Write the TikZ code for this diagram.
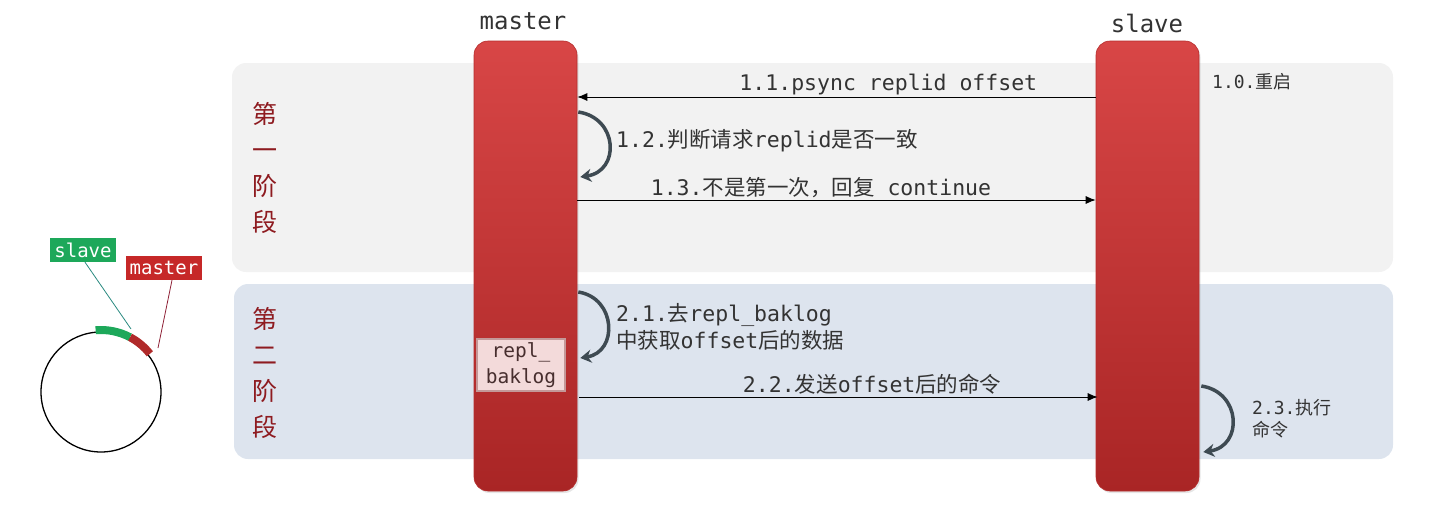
\documentclass[tikz,border=0pt]{standalone}
\usepackage{fontspec}
\setmonofont{DejaVu Sans Mono}
\newfontfamily\cjk{Noto Sans CJK SC}
\usetikzlibrary{arrows.meta,shadows}
\definecolor{panelgray}{HTML}{F2F2F2}
\definecolor{panelblue}{HTML}{DDE4EE}
\definecolor{bartop}{HTML}{D84646}
\definecolor{barbottom}{HTML}{A92525}
\definecolor{barline}{HTML}{B52D2D}
\definecolor{loopgray}{HTML}{3E4A52}
\definecolor{labelgray}{HTML}{333333}
\definecolor{stagered}{HTML}{8E1B20}
\definecolor{tagred}{HTML}{C62828}
\definecolor{taggreen}{HTML}{1DA85A}
\definecolor{arcred}{HTML}{B02A2A}
\definecolor{slaveline}{HTML}{2A8A80}
\definecolor{masterline}{HTML}{8E2035}
\definecolor{logfill}{HTML}{F3DADA}
\definecolor{logedge}{HTML}{C49898}
\newcommand\zh[1]{{\cjk #1}}
\begin{document}
\begin{tikzpicture}[x=1pt,y=-1pt,
    panel/.style={rounded corners=14pt, inner sep=0pt},
    bar/.style={rounded corners=14pt, minimum width=103pt, minimum height=450pt,
      top color=bartop, bottom color=barbottom, draw=barline, line width=0.6pt,
      drop shadow={opacity=0.2, shadow xshift=1.5pt, shadow yshift=-2pt}},
    title/.style={font=\ttfamily\fontsize{24}{28}\selectfont, text=labelgray},
    msg/.style={-{Latex[length=10pt,width=8pt]}, line width=0.9pt},
    loopy/.style={-{Stealth[length=11pt,width=13pt]}, line width=3.5pt, draw=loopgray},
    lbl/.style={font=\ttfamily\fontsize{21.5}{27}\selectfont, text=labelgray, inner sep=2pt},
    note/.style={font=\ttfamily\fontsize{18}{22}\selectfont, text=labelgray, align=left, inner sep=0pt},
    stage/.style={font=\cjk\fontsize{25}{36}\selectfont, text=stagered, align=center},
    tag/.style={font=\ttfamily\fontsize{19}{22}\selectfont, text=white, inner sep=4pt, minimum height=24pt}]
  \useasboundingbox (0,0) rectangle (1450,514);
  \node[panel, fill=panelgray, minimum width=1161pt, minimum height=209pt] (phaseone) at (812.5,167.5) {};
  \node[panel, fill=panelblue, minimum width=1159pt, minimum height=175pt] (phasetwo) at (813.5,371.5) {};
  \node[stage] (stageone) at (265,168) {第\\一\\阶\\段};
  \node[stage] (stagetwo) at (265,373) {第\\二\\阶\\段};
  \node[bar] (master) at (525.5,266) {};
  \node[bar] (slave) at (1147.5,266) {};
  \node[title] (mastername) at (523,21) {master};
  \node[title] (slavename) at (1147,23) {slave};
  \node[draw=logedge, line width=2.5pt, fill=logfill, minimum width=88pt, minimum height=52pt,
    align=center, inner sep=0pt, font=\ttfamily\fontsize{19.5}{26}\selectfont, text=labelgray!90!red] (baklog) at (521,365) {repl\_\\baklog};
  \coordinate (row11) at (0,97);
  \coordinate (row12a) at (0,112);
  \coordinate (row12b) at (0,177);
  \coordinate (row13) at (0,200);
  \coordinate (row21a) at (0,292);
  \coordinate (row21b) at (0,358);
  \coordinate (row22) at (0,397);
  \coordinate (row23a) at (0,386);
  \coordinate (row23b) at (0,452);
  \draw[msg] (slave.west |- row11) -- (master.east |- row11)
    node[lbl, pos=0.4, above] (psync) {1.1.psync replid offset};
  \draw[loopy] ([xshift=1pt]master.east |- row12a) .. controls +(40,6) and +(40,-6) .. ([xshift=3pt]master.east |- row12b);
  \node[lbl, anchor=west] (judge) at (614,141) {1.2.\zh{判断请求}replid\zh{是否一致}};
  \draw[msg] (master.east |- row13) -- (slave.west |- row13)
    node[lbl, pos=0.47, above] (reply) {1.3.\zh{不是第一次，回复} continue};
  \draw[loopy] ([xshift=1pt]master.east |- row21a) .. controls +(38,6) and +(38,-6) .. ([xshift=3pt]master.east |- row21b);
  \node[lbl, anchor=west, align=left] (fetch) at (614,326.5) {2.1.\zh{去}repl\_baklog\\\zh{中获取}offset\zh{后的数据}};
  \draw[msg] ([xshift=2pt]master.east |- row22) -- ([xshift=2pt]slave.west |- row22)
    node[lbl, pos=0.565, above] (send) {2.2.\zh{发送}offset\zh{后的命令}};
  \draw[loopy] ([xshift=2pt]slave.east |- row23a) .. controls +(40,6) and +(40,-6) .. ([xshift=4pt]slave.east |- row23b);
  \node[note, anchor=west] (exec) at (1252,419) {2.3.\zh{执行}\\\zh{命令}};
  \node[note, anchor=west] (restart) at (1212,82) {1.0.\zh{重启}};
  \node[circle, draw, line width=1.3pt, minimum size=120pt, inner sep=0pt] (ring) at (101,392) {};
  \draw[taggreen, line width=8pt] (ring.center) ++(95:62pt) arc[start angle=95, end angle=62, radius=62pt];
  \draw[arcred, line width=8pt] (ring.center) ++(62:62pt) arc[start angle=62, end angle=38, radius=62pt];
  \node[tag, fill=taggreen] (slavetag) at (83,250) {slave};
  \node[tag, fill=tagred] (mastertag) at (164,268) {master};
  \coordinate (slavemark) at (131,329);
  \coordinate (mastermark) at (158,348);
  \draw[slaveline, line width=0.8pt] ([xshift=2pt]slavetag.south) -- (slavemark);
  \draw[masterline, line width=0.8pt] ([xshift=8pt]mastertag.south) -- (mastermark);
\end{tikzpicture}
\end{document}
